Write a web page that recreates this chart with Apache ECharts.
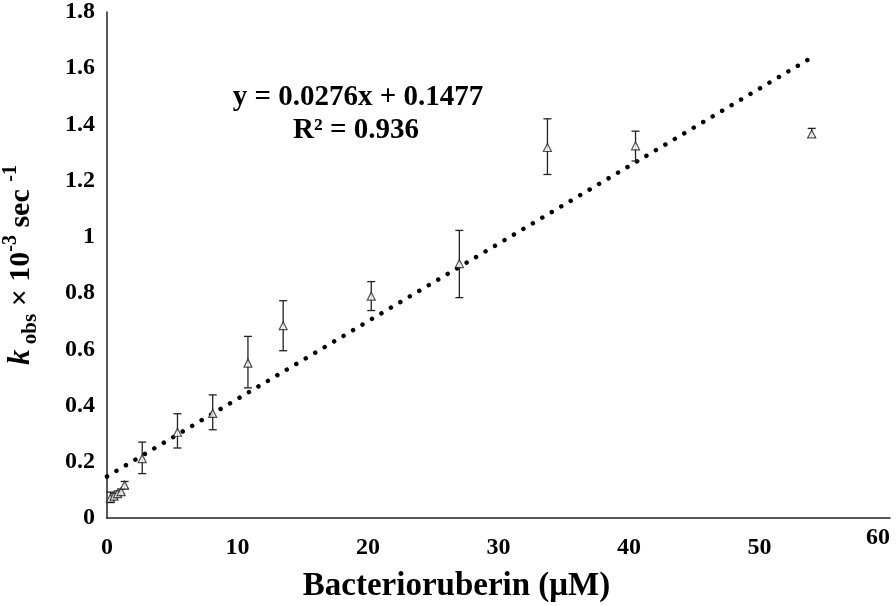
<!DOCTYPE html>
<html>
<head>
<meta charset="utf-8">
<script src="https://cdn.jsdelivr.net/npm/echarts@6/dist/echarts.min.js"></script>
<style>
html,body{margin:0;padding:0;background:#fff;}
#chart{width:896px;height:606px;}
</style>
</head>
<body>
<div id="chart"></div>
<script>
// concentration of bacterioruberin (µM)
const conc = [0.27, 0.54, 0.81, 1.08, 1.35, 2.7, 5.4, 8.1, 10.8, 13.5, 20.25, 27, 33.75, 40.5, 54];
// k_obs (×10^-3 sec^-1)
const kobs = [0.071, 0.078, 0.087, 0.094, 0.117, 0.211, 0.305, 0.372, 0.551, 0.684, 0.789, 0.905, 1.318, 1.324, 1.366];
const errLow = [0.055, 0.068, 0.078, 0.085, 0.104, 0.158, 0.249, 0.314, 0.463, 0.595, 0.738, 0.784, 1.222, 1.270, 1.354];
const errHigh = [0.092, 0.088, 0.096, 0.103, 0.130, 0.270, 0.371, 0.438, 0.646, 0.773, 0.841, 1.023, 1.420, 1.376, 1.386];
// linear trendline
const slope = 0.0276;
const intercept = 0.1477;
const trendRange = [0, 54];
const eqText = 'y = 0.0276x + 0.1477';
const r2Text = 'R² = 0.936';

const serif = '"Liberation Serif", "Times New Roman", serif';
const axisColor = '#222';

const points = conc.map((x, i) => [x, kobs[i]]);
const bars = conc.map((x, i) => [x, errLow[i], errHigh[i]]);
const trend = trendRange.map(x => [x, slope * x + intercept]);

const chart = echarts.init(document.getElementById('chart'), null, {renderer: 'canvas'});
chart.setOption({
  animation: false,
  backgroundColor: '#fff',
  grid: {left: 107, right: 6, top: 12, bottom: 88, containLabel: false, outerBoundsMode: 'none'},
  xAxis: {
    type: 'value', min: 0, max: 60, interval: 10,
    axisLine: {show: true, onZero: false, lineStyle: {color: axisColor, width: 1.5}},
    axisTick: {show: false},
    splitLine: {show: false},
    axisLabel: {
      color: '#000', fontFamily: serif, fontWeight: 'bold', fontSize: 24, margin: 18,
      alignMaxLabel: 'right',
      formatter: function (v) { return v === 60 ? '{e|' + v + '}' : String(v); },
      rich: {e: {fontFamily: serif, fontWeight: 'bold', fontSize: 24, lineHeight: 4, color: '#000'}}
    },
    name: 'Bacterioruberin (μM)',
    nameLocation: 'middle',
    nameGap: 52,
    nameTextStyle: {color: '#000', fontFamily: serif, fontWeight: 'bold', fontSize: 33, padding: [0, 84, 0, 0]}
  },
  yAxis: {
    type: 'value', min: 0, max: 1.8, interval: 0.2,
    axisLine: {show: true, onZero: false, lineStyle: {color: axisColor, width: 1.5}},
    axisTick: {show: false},
    splitLine: {show: false},
    axisLabel: {color: '#000', fontFamily: serif, fontWeight: 'bold', fontSize: 24, margin: 12},
    name: '{k|k}{sub| obs}{m| × 10}{sup|-3}{m| sec }{sup|-1}',
    nameLocation: 'middle',
    nameRotate: 90,
    nameGap: 66,
    nameTextStyle: {
      color: '#000',
      rich: {
        k: {fontFamily: serif, fontStyle: 'italic', fontWeight: 'bold', fontSize: 31, lineHeight: 40, color: '#000'},
        sub: {fontFamily: serif, fontWeight: 'bold', fontSize: 21, lineHeight: 22, verticalAlign: 'bottom', color: '#000'},
        m: {fontFamily: serif, fontWeight: 'bold', fontSize: 30, lineHeight: 40, color: '#000'},
        sup: {fontFamily: serif, fontWeight: 'bold', fontSize: 20, lineHeight: 22, verticalAlign: 'top', color: '#000'}
      }
    }
  },
  graphic: [
    {type: 'text', x: 358, y: 98, style: {text: eqText, font: 'bold 29px ' + serif, fill: '#000', align: 'center', verticalAlign: 'middle'}},
    {type: 'text', x: 356, y: 131, style: {text: r2Text, font: 'bold 29px ' + serif, fill: '#000', align: 'center', verticalAlign: 'middle'}}
  ],
  series: [
    {
      type: 'line',
      data: trend,
      symbol: 'none',
      silent: true,
      z: 1,
      lineStyle: {color: '#000', width: 4.5, type: [0.01, 11], cap: 'round'}
    },
    {
      type: 'custom',
      data: bars,
      z: 2,
      renderItem: function (params, api) {
        const x = api.value(0);
        const lo = api.coord([x, api.value(1)]);
        const hi = api.coord([x, api.value(2)]);
        const w = 4;
        const st = {stroke: '#222', lineWidth: 1.3, fill: null};
        return {
          type: 'group',
          children: [
            {type: 'line', shape: {x1: lo[0], y1: lo[1], x2: hi[0], y2: hi[1]}, style: st},
            {type: 'line', shape: {x1: lo[0] - w, y1: lo[1], x2: lo[0] + w, y2: lo[1]}, style: st},
            {type: 'line', shape: {x1: hi[0] - w, y1: hi[1], x2: hi[0] + w, y2: hi[1]}, style: st}
          ]
        };
      }
    },
    {
      type: 'scatter',
      data: points,
      symbol: 'triangle',
      symbolSize: [8, 8],
      z: 3,
      itemStyle: {color: '#fff', borderColor: '#222', borderWidth: 1.2}
    }
  ]
});
</script>
</body>
</html>
